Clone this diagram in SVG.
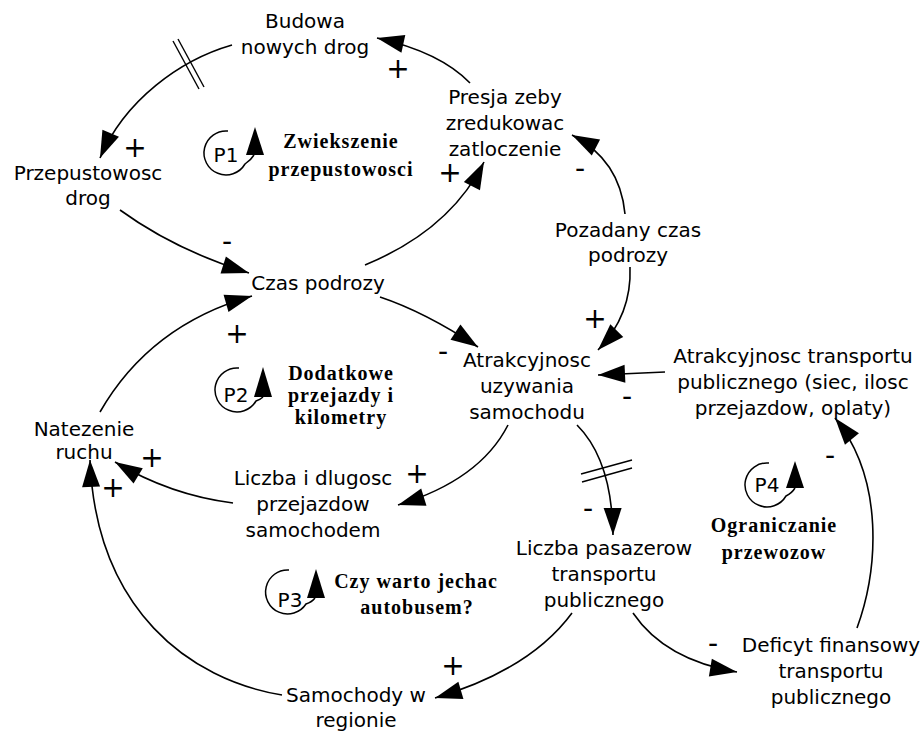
<svg xmlns="http://www.w3.org/2000/svg" width="924" height="734" viewBox="0 0 924 734">
<defs>
<marker id="ah" markerUnits="userSpaceOnUse" markerWidth="30" markerHeight="22" viewBox="-29 -11 30 22" refX="0" refY="0" orient="auto">
<path d="M0,0 L-27,-9 L-27,9 Z" fill="#000"/>
</marker>
<style>
.n{font-family:"DejaVu Sans",Verdana,sans-serif;font-size:20px;fill:#000;text-anchor:middle}
.l{font-family:"Liberation Serif","Times New Roman",serif;font-size:20px;font-weight:bold;letter-spacing:1px;fill:#000;text-anchor:middle}
.p{font-family:"DejaVu Sans",Verdana,sans-serif;font-size:28px;fill:#000;text-anchor:middle}
.c{fill:none;stroke:#000;stroke-width:1.6}
.h{fill:none;stroke:#000;stroke-width:1.4}
.la{fill:none;stroke:#000;stroke-width:1.5}
</style>
</defs>
<rect width="924" height="734" fill="#fff"/>

<g id="connectors">
<path class="c" d="M470,83 Q440,52 377,38" marker-end="url(#ah)"/>
<path class="c" d="M232,45 C180,60 125,100 100,158" marker-end="url(#ah)"/>
<line class="h" x1="173" y1="41" x2="199" y2="89"/>
<line class="h" x1="178" y1="39" x2="204" y2="87"/>
<path class="c" d="M120,210 Q175,250 249,273" marker-end="url(#ah)"/>
<path class="c" d="M365,265 Q450,230 484,162" marker-end="url(#ah)"/>
<path class="c" d="M625,214 Q620,160 572,135" marker-end="url(#ah)"/>
<path class="c" d="M630,267 Q632,315 598,350" marker-end="url(#ah)"/>
<path class="c" d="M380,297 Q425,312 478,347" marker-end="url(#ah)"/>
<path class="c" d="M665,372 L598,375" marker-end="url(#ah)"/>
<path class="c" d="M508,425 Q480,480 398,505" marker-end="url(#ah)"/>
<path class="c" d="M233,503 Q170,495 115,462" marker-end="url(#ah)"/>
<path class="c" d="M100,412 Q150,325 252,296" marker-end="url(#ah)"/>
<path class="c" d="M577,425 Q612,460 613,535" marker-end="url(#ah)"/>
<line class="h" x1="581" y1="474" x2="632" y2="460"/>
<line class="h" x1="582" y1="482" x2="632" y2="468"/>
<path class="c" d="M572,613 Q530,670 435,698" marker-end="url(#ah)"/>
<path class="c" d="M282,695 C190,680 96,610 90,460" marker-end="url(#ah)"/>
<path class="c" d="M633,613 Q665,660 737,672" marker-end="url(#ah)"/>
<path class="c" d="M857,628 C878,570 885,480 835,418" marker-end="url(#ah)"/>
</g>

<g id="polarities">
<text class="p" x="398" y="78">+</text>
<text class="p" x="135" y="157">+</text>
<text class="p" x="227" y="251">-</text>
<text class="p" x="450" y="182">+</text>
<text class="p" x="580" y="178">-</text>
<text class="p" x="595" y="328">+</text>
<text class="p" x="443" y="361">-</text>
<text class="p" x="627" y="406">-</text>
<text class="p" x="417" y="483">+</text>
<text class="p" x="152" y="467">+</text>
<text class="p" x="237" y="343">+</text>
<text class="p" x="113" y="497">+</text>
<text class="p" x="588" y="518">-</text>
<text class="p" x="453" y="675">+</text>
<text class="p" x="713" y="653">-</text>
<text class="p" x="830" y="465">-</text>
</g>

<g id="n_budowa"><text class="n" x="305" y="28">Budowa</text><text class="n" x="305" y="54">nowych drog</text></g>
<g id="n_presja"><text class="n" x="505" y="104">Presja zeby</text><text class="n" x="505" y="130">zredukowac</text><text class="n" x="505" y="156">zatloczenie</text></g>
<g id="n_przepustowosc"><text class="n" x="88" y="180">Przepustowosc</text><text class="n" x="88" y="205">drog</text></g>
<g id="n_czas"><text class="n" x="318" y="290">Czas podrozy</text></g>
<g id="n_pozadany"><text class="n" x="628" y="237">Pozadany czas</text><text class="n" x="628" y="262">podrozy</text></g>
<g id="n_atrakcyjnosc"><text class="n" x="527" y="367">Atrakcyjnosc</text><text class="n" x="527" y="393">uzywania</text><text class="n" x="527" y="419">samochodu</text></g>
<g id="n_atrakcyjnosc_tp"><text class="n" x="793" y="363">Atrakcyjnosc transportu</text><text class="n" x="793" y="389">publicznego (siec, ilosc</text><text class="n" x="793" y="415">przejazdow, oplaty)</text></g>
<g id="n_natezenie"><text class="n" x="84" y="436">Natezenie</text><text class="n" x="84" y="459">ruchu</text></g>
<g id="n_liczba"><text class="n" x="313" y="485">Liczba i dlugosc</text><text class="n" x="313" y="511">przejazdow</text><text class="n" x="313" y="537">samochodem</text></g>
<g id="n_pasazerow"><text class="n" x="604" y="555">Liczba pasazerow</text><text class="n" x="604" y="581">transportu</text><text class="n" x="604" y="607">publicznego</text></g>
<g id="n_deficyt"><text class="n" x="831" y="652">Deficyt finansowy</text><text class="n" x="831" y="678">transportu</text><text class="n" x="831" y="704">publicznego</text></g>
<g id="n_samochody"><text class="n" x="356" y="702">Samochody w</text><text class="n" x="356" y="727">regionie</text></g>

<g id="loop_p1">
<path class="la" d="M228,131 A22,22 0 1 0 245,164 Q251,160 254,155"/>
<path d="M255,127 L246,155 L264,155 Z"/>
<text class="n" x="226" y="162">P1</text>
<text class="l" x="341" y="148">Zwiekszenie</text>
<text class="l" x="341" y="176">przepustowosci</text>
</g>
<g id="loop_p2">
<path class="la" d="M239,368 A22,22 0 1 0 256,401 Q261,399 263,397"/>
<path d="M263,367 L254,397 L272,397 Z"/>
<text class="n" x="236" y="402">P2</text>
<text class="l" x="341" y="380">Dodatkowe</text>
<text class="l" x="341" y="402">przejazdy i</text>
<text class="l" x="341" y="424">kilometry</text>
</g>
<g id="loop_p3">
<path class="la" d="M289,570 A22,22 0 1 0 306,604 Q312,602 315,598"/>
<path d="M316,569 L307,598 L325,598 Z"/>
<text class="n" x="290" y="607">P3</text>
<text class="l" x="416" y="588">Czy warto jechac</text>
<text class="l" x="417" y="614">autobusem?</text>
</g>
<g id="loop_p4">
<path class="la" d="M769,463 A22,22 0 1 0 786,496 Q792,493 795,488"/>
<path d="M795,461 L786,488 L804,488 Z"/>
<text class="n" x="767" y="492">P4</text>
<text class="l" x="774" y="532">Ograniczanie</text>
<text class="l" x="774" y="559">przewozow</text>
</g>
</svg>
